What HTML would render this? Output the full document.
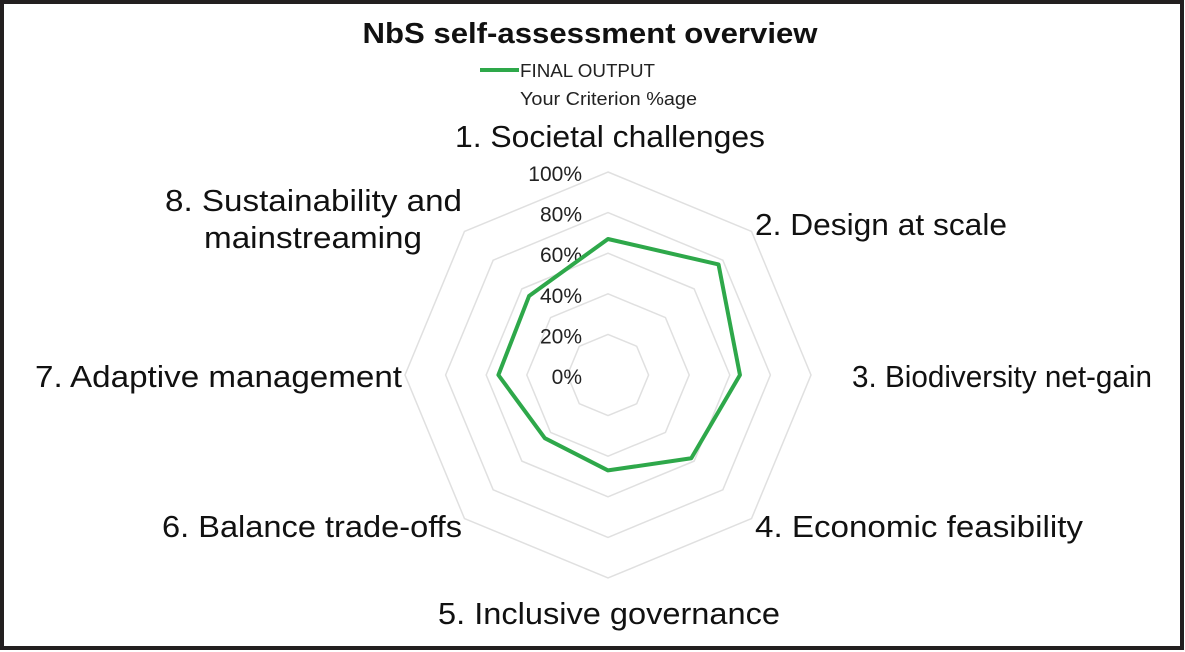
<!DOCTYPE html>
<html><head><meta charset="utf-8">
<style>
html,body{margin:0;padding:0;background:#fff;}
body{width:1185px;height:652px;overflow:hidden;}
svg{display:block;font-family:"Liberation Sans",sans-serif;}
</style></head>
<body>
<svg width="1185" height="652" viewBox="0 0 1185 652">
<rect x="2" y="2" width="1180" height="646" fill="#fff" stroke="#231f20" stroke-width="4"/>
<text x="590" y="43" text-anchor="middle" font-size="29" font-weight="bold" fill="#111" textLength="455" lengthAdjust="spacingAndGlyphs">NbS self-assessment overview</text>
<line x1="480" y1="70" x2="519" y2="70" stroke="#2ea84a" stroke-width="4"/>
<text x="520" y="77" font-size="18" fill="#222" textLength="135" lengthAdjust="spacingAndGlyphs">FINAL OUTPUT</text>
<text x="520" y="105" font-size="18" fill="#222" textLength="177" lengthAdjust="spacingAndGlyphs">Your Criterion %age</text>
<g id="grid"></g>
<g id="ticks"></g>
<g id="labels"></g>
<g id="series"></g>
</svg>
<script>
const categories=["1. Societal challenges","2. Design at scale","3. Biodiversity net-gain","4. Economic feasibility","5. Inclusive governance","6. Balance trade-offs","7. Adaptive management","8. Sustainability and|mainstreaming"];
const values=[0.67,0.77,0.65,0.58,0.47,0.44,0.54,0.55];
const tickValues=[0,0.2,0.4,0.6,0.8,1.0];
const tickLabels=["0%","20%","40%","60%","80%","100%"];
const cx=608,cy=375,R=203;
const NS="http://www.w3.org/2000/svg";
function ang(i){return -Math.PI/2+i*2*Math.PI/categories.length;}
function pt(i,v){return [cx+R*v*Math.cos(ang(i)),cy+R*v*Math.sin(ang(i))];}
const grid=document.getElementById('grid');
tickValues.forEach((t,k)=>{if(t===0)return;
 const p=document.createElementNS(NS,'polygon');
 p.setAttribute('points',categories.map((c,i)=>pt(i,t).join(',')).join(' '));
 p.setAttribute('fill','none');p.setAttribute('stroke','#e0e0e0');p.setAttribute('stroke-width','1.5');
 
 
 grid.appendChild(p);});
const ticks=document.getElementById('ticks');
tickValues.forEach((t,k)=>{
 const tx=document.createElementNS(NS,'text');
 tx.setAttribute('x',cx-26);tx.setAttribute('y',cy-R*t+9);
 tx.setAttribute('text-anchor','end');tx.setAttribute('font-size','21');tx.setAttribute('fill','#222');
 tx.textContent=tickLabels[k];
 
 
 ticks.appendChild(tx);});
const labelPos=[[610,147,'middle',310],[755,235,'start',252],[852,387,'start',300],[755,537,'start',328],[609,624,'middle',342],[462,537,'end',300],[402,387,'end',367],[462,211,'end',297]];
const labels=document.getElementById('labels');
categories.forEach((c,i)=>{
 const tx=document.createElementNS(NS,'text');
 const [x,y,a,w]=labelPos[i];
 tx.setAttribute('x',x);tx.setAttribute('y',y);tx.setAttribute('text-anchor',a);
 tx.setAttribute('font-size','31');tx.setAttribute('fill','#111');
 c.split('|').forEach((line,j)=>{const ts=document.createElementNS(NS,'tspan');ts.setAttribute('x',x);
  if(j>0){ts.setAttribute('dy','37');ts.setAttribute('x',313);ts.setAttribute('text-anchor','middle');ts.setAttribute('textLength','218');}
  else ts.setAttribute('textLength',w);
  ts.setAttribute('lengthAdjust','spacingAndGlyphs');
  ts.textContent=line;
  tx.appendChild(ts);});
 
 
 labels.appendChild(tx);});
const s=document.createElementNS(NS,'polygon');
s.setAttribute('points',values.map((v,i)=>pt(i,v).join(',')).join(' '));
s.setAttribute('fill','none');s.setAttribute('stroke','#2ea84a');s.setAttribute('stroke-width','4');s.setAttribute('stroke-linejoin','round');


document.getElementById('series').appendChild(s);
</script>
</body></html>
